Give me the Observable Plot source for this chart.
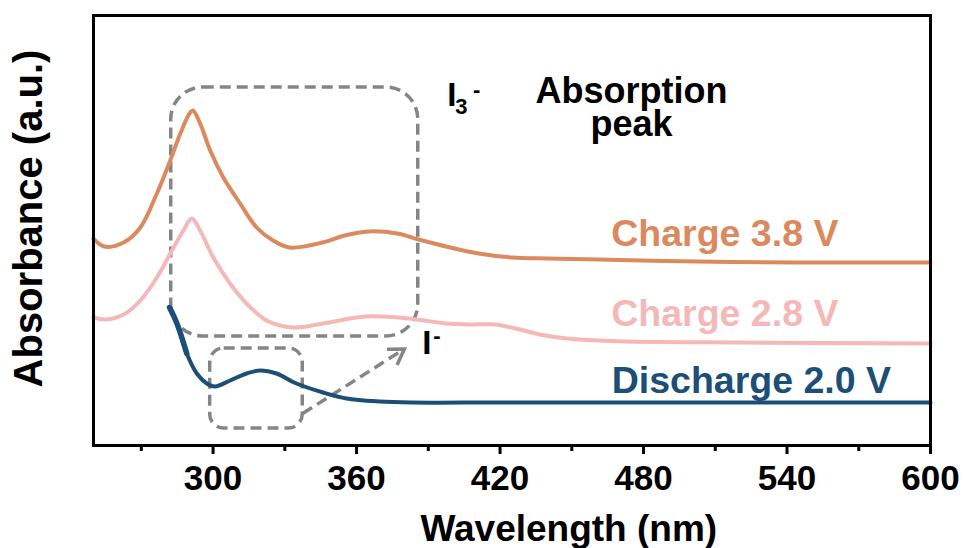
<!DOCTYPE html>
<html><head><meta charset="utf-8">
<script src="https://cdn.jsdelivr.net/npm/d3@7"></script>
<script src="https://cdn.jsdelivr.net/npm/@observablehq/plot@0.6"></script>
<style>body{margin:0;background:#fff;}</style>
</head><body><div id="chart"></div>
<script>
// Charge 3.8 V
const wl38  = [250, 254.5, 262.6, 269.6, 276.5, 282.1, 286.3, 290.4, 291.6, 294.6, 298.8, 304.3, 311.3, 318.2, 325.1, 332, 345.8, 355, 365, 377, 386, 397.5, 411, 425, 440, 461, 503, 545, 600];
const abs38 = [2.07, 1.99, 2.03, 2.18, 2.52, 2.85, 3.12, 3.33, 3.35, 3.22, 2.95, 2.68, 2.42, 2.18, 2.05, 1.98, 2.03, 2.10, 2.14, 2.12, 2.06, 1.99, 1.92, 1.88, 1.87, 1.86, 1.84, 1.83, 1.83];
// Charge 2.8 V
const wl28  = [250, 255, 262.6, 269.6, 276.5, 283.5, 287.6, 291.1, 294.6, 300.1, 307.1, 314, 322.4, 333.5, 346, 364, 382, 397.4, 408.5, 418.2, 426.5, 439, 453, 474, 520, 600];
const abs28 = [1.28, 1.26, 1.31, 1.45, 1.68, 1.98, 2.15, 2.27, 2.15, 1.88, 1.62, 1.42, 1.25, 1.18, 1.22, 1.29, 1.27, 1.22, 1.21, 1.21, 1.17, 1.10, 1.06, 1.04, 1.03, 1.02];
// Discharge 2.0 V
const wl20  = [281.8, 284.9, 289, 293.2, 297.4, 300.8, 307.1, 314, 319.6, 326.5, 334.9, 346, 355.8, 369.6, 383, 420, 500, 600];
const abs20 = [1.38, 1.22, 0.92, 0.72, 0.62, 0.59, 0.65, 0.72, 0.75, 0.72, 0.62, 0.53, 0.47, 0.44, 0.43, 0.43, 0.43, 0.43];

const seriesNames  = ["Charge 3.8 V", "Charge 2.8 V", "Discharge 2.0 V"];
const seriesColors = ["#DA8A5E", "#F5B8B8", "#1B4F78"];
const majorTicks = [300, 360, 420, 480, 540, 600];
const minorTicks = [270, 330, 390, 450, 510, 570];
const xTitle = "Wavelength (nm)";
const yTitle = "Absorbance (a.u.)";
const peakLines = ["Absorption", "peak"];

const toRows = (wl, ab) => wl.map((x, i) => ({x, y: ab[i]}));
const rows38 = toRows(wl38, abs38);
const rows28 = toRows(wl28, abs28);
const rows20 = toRows(wl20, abs20);

const gray = "#858585";
const font = "'Liberation Sans', Arial, Helvetica, sans-serif";

// open chevron arrow head (tip at origin, pointing +x)
const chevron = {
  draw(context, size) {
    const r = Math.sqrt(size / Math.PI);
    context.moveTo(-r * 0.87, -r * 0.55);
    context.lineTo(0, 0);
    context.lineTo(-r * 0.87, r * 0.55);
  }
};

const chart = Plot.plot({
  width: 966, height: 548,
  marginLeft: 93, marginRight: 36, marginTop: 15, marginBottom: 103,
  x: {domain: [250, 600]},
  y: {domain: [0, 4.3], axis: null},
  style: {fontFamily: font, fontWeight: "bold", background: "white", color: "black"},
  marks: [
    // dashed annotation boxes
    Plot.rect([{}], {x1: 282.5, x2: 385.8, y1: 1.09, y2: 3.58, rx: 32, fill: "none", stroke: gray, strokeWidth: 3.5, strokeDasharray: "11,6"}),
    Plot.rect([{}], {x1: 298.8, x2: 337.5, y1: 0.17, y2: 0.97, rx: 14, fill: "none", stroke: gray, strokeWidth: 3.5, strokeDasharray: "11,6"}),
    // dashed arrow
    Plot.link([{}], {x1: 337.5, y1: 0.32, x2: 379.6, y2: 0.96, stroke: gray, strokeWidth: 3.5, strokeDasharray: "11,6"}),
    Plot.dot([{}], {x: 380, y: 0.965, symbol: chevron, r: 17, rotate: -33, fill: "none", stroke: gray, strokeWidth: 3.5, strokeLinejoin: "miter"}),
    // spectra
    Plot.line(rows38, {x: "x", y: "y", stroke: seriesColors[0], strokeWidth: 4, curve: "catmull-rom"}),
    Plot.line(rows28, {x: "x", y: "y", stroke: seriesColors[1], strokeWidth: 4, curve: "catmull-rom"}),
    Plot.line(rows20, {x: "x", y: "y", stroke: seriesColors[2], strokeWidth: 4, curve: "catmull-rom"}),
    Plot.line(rows20.slice(0, 3), {x: "x", y: "y", stroke: seriesColors[2], strokeWidth: 5.5, curve: "catmull-rom"}),
    // frame & axes
    Plot.frame({stroke: "black", strokeWidth: 3}),
    Plot.axisX(majorTicks, {tickSize: 9, tickPadding: 11, strokeWidth: 3, fontSize: 35, label: null, tickFormat: d => String(d)}),
    Plot.axisX(minorTicks, {tickSize: 6, strokeWidth: 3, label: null, tickFormat: () => ""}),
    // series labels
    Plot.text([seriesNames[0]], {x: 466.5, y: 2.00, text: d => d, fill: seriesColors[0], fontSize: 37.5, textAnchor: "start", lineAnchor: "bottom"}),
    Plot.text([seriesNames[1]], {x: 466.5, y: 1.20, text: d => d, fill: seriesColors[1], fontSize: 37.5, textAnchor: "start", lineAnchor: "bottom"}),
    Plot.text([seriesNames[2]], {x: 466.7, y: 0.53, text: d => d, fill: seriesColors[2], fontSize: 37.5, textAnchor: "start", lineAnchor: "bottom"}),
    // annotations
    Plot.text([peakLines[0]], {x: 475, y: 3.43, text: d => d, fill: "black", fontSize: 36, lineAnchor: "bottom"}),
    Plot.text([peakLines[1]], {x: 475, y: 3.10, text: d => d, fill: "black", fontSize: 36, lineAnchor: "bottom"}),
    Plot.text(["I"], {x: 397.9, y: 3.40, text: d => d, fill: "black", fontSize: 33, textAnchor: "start", lineAnchor: "bottom"}),
    Plot.text(["3"], {x: 401.3, y: 3.32, text: d => d, fill: "black", fontSize: 22, textAnchor: "start", lineAnchor: "bottom"}),
    Plot.text(["-"], {x: 410.2, y: 3.49, text: d => d, fill: "black", fontSize: 22, lineAnchor: "bottom"}),
    Plot.text(["I"], {x: 387.5, y: 0.92, text: d => d, fill: "black", fontSize: 33, textAnchor: "start", lineAnchor: "bottom"}),
    Plot.text(["-"], {x: 393.6, y: 1.03, text: d => d, fill: "black", fontSize: 22, lineAnchor: "bottom"}),
    // axis titles
    Plot.text([xTitle], {x: 448.75, frameAnchor: "bottom", dy: 69, text: d => d, fill: "black", fontSize: 37, lineAnchor: "top"}),
    Plot.text([yTitle], {frameAnchor: "left", y: 2.27, dx: -64, rotate: -90, text: d => d, fill: "black", fontSize: 40, textAnchor: "middle", lineAnchor: "middle"})
  ]
});
document.getElementById("chart").appendChild(chart);
</script>
</body></html>
